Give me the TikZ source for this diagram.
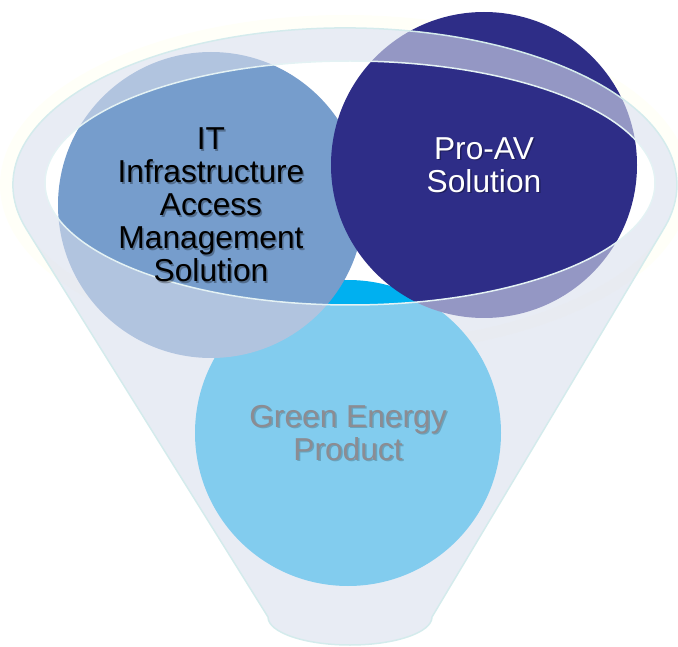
\documentclass[tikz,border=0pt]{standalone}
\usepackage{fontspec}
\setmainfont{Liberation Sans}
\usetikzlibrary{shapes,positioning}
\definecolor{itblue}{RGB}{118,157,204}
\definecolor{avnavy}{RGB}{46,45,135}
\definecolor{greenblue}{RGB}{0,176,240}
\definecolor{funnelfill}{RGB}{217,223,237}
\definecolor{rimline}{RGB}{212,235,236}
\definecolor{mouthline}{RGB}{228,242,244}
\definecolor{greytext}{RGB}{140,140,146}
\definecolor{glow}{RGB}{255,255,248}
\tikzstyle{bubble} = [circle, minimum size=306pt, inner sep=0pt, outer sep=0pt]
\tikzstyle{bubbletext} = [align=center, inner sep=0pt, font=\fontsize{31.7}{33}\selectfont]
\tikzstyle{textshadow} = [bubbletext, text=black, text opacity=0.3]

\begin{document}
\begin{tikzpicture}[x=1pt, y=-1pt] % pixel units, y runs downwards
\useasboundingbox (0,0) rectangle (678,647);

% Faint glow round the funnel mouth
\draw[glow, line width=12pt] (345,185) ellipse [x radius=339, y radius=164];

% Place the circles
\node (green_circle) [bubble, fill=greenblue] at (348,433) {};
\node (it_circle)    [bubble, fill=itblue]    at (211,205) {};
\node (av_circle)    [bubble, fill=avnavy]    at (484,165) {};

% Funnel body laid over the circles, mouth left open
\fill[funnelfill, fill opacity=0.6, even odd rule]
  (26.5,229.3) arc[start angle=163.59, end angle=375.77, x radius=332, y radius=157]
  -- (432,617) arc[start angle=0, end angle=180, x radius=82, y radius=28]
  -- cycle
  (350,183) ellipse [x radius=305, y radius=122];
\draw[rimline, line width=1.5pt]
  (26.5,229.3) arc[start angle=163.59, end angle=375.77, x radius=332, y radius=157]
  -- (432,617) arc[start angle=0, end angle=180, x radius=82, y radius=28]
  -- cycle;
\draw[mouthline, line width=1.5pt] (350,183) ellipse [x radius=305, y radius=122];

% Labels with their shadows
\node (it_shadow)    [textshadow] at ([shift={(1.5,1.5)}]it_circle)    {IT\\Infrastructure\\Access\\Management\\Solution};
\node (it_text)      [bubbletext, text=black] at (it_circle)           {IT\\Infrastructure\\Access\\Management\\Solution};
\node (av_shadow)    [textshadow] at ([shift={(1.5,1.5)}]av_circle)    {Pro-AV\\Solution};
\node (av_text)      [bubbletext, text=white] at (av_circle)           {Pro-AV\\Solution};
\node (green_shadow) [textshadow, text opacity=0.2] at ([shift={(1.5,1.5)}]green_circle) {Green Energy\\Product};
\node (green_text)   [bubbletext, text=greytext] at (green_circle)     {Green Energy\\Product};

\end{tikzpicture}
\end{document}
